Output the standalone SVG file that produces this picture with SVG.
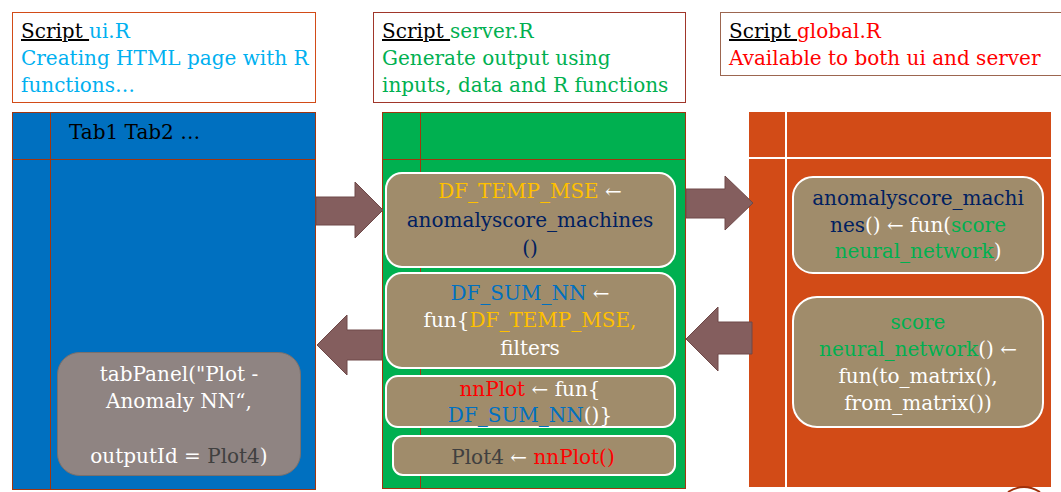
<svg xmlns="http://www.w3.org/2000/svg" width="1061" height="492" viewBox="0 0 1061 492">
<style>
text{font-family:"DejaVu Serif","Liberation Serif",serif;font-size:20px}
.c{text-anchor:middle}
.k{fill:#000}
.lb{fill:#00B0F0}
.gr{fill:#00B050}
.rd{fill:#FF0000}
.nv{fill:#002060}
.yl{fill:#FFC000}
.bl{fill:#0070C0}
.wh{fill:#FFFFFF}
.dg{fill:#404040}
.box{fill:#A08C6B;stroke:#FFFFFF;stroke-width:2}
.arr{fill:#845E5E;stroke:#6E4848;stroke-width:1}
</style>
<rect width="1061" height="492" fill="#FFFFFF"/>

<g id="header-ui">
<rect x="12.5" y="12.5" width="303" height="90" fill="#FFFFFF" stroke="#D24B17" stroke-width="1"/>
<text x="21" y="38"><tspan class="k" text-decoration="underline">Script </tspan><tspan class="lb">ui.R</tspan></text>
<text x="21" y="65" class="lb">Creating HTML page with R</text>
<text x="21" y="92" class="lb">functions…</text>
</g>

<g id="header-server">
<rect x="373.5" y="12.5" width="312" height="90" fill="#FFFFFF" stroke="#A0362A" stroke-width="1"/>
<text x="382" y="38"><tspan class="k" text-decoration="underline">Script </tspan><tspan class="gr">server.R</tspan></text>
<text x="382" y="65" class="gr">Generate output using</text>
<text x="382" y="92" class="gr">inputs, data and R functions</text>
</g>

<g id="header-global">
<rect x="720.5" y="12.5" width="345" height="63" fill="#FFFFFF" stroke="#9C6650" stroke-width="1"/>
<text x="729" y="38"><tspan class="k" text-decoration="underline">Script </tspan><tspan class="rd">global.R</tspan></text>
<text x="729" y="65" class="rd">Available to both ui and server</text>
</g>

<g id="panel-ui">
<rect x="12.5" y="112.5" width="303" height="377" fill="#0070C0" stroke="#A0360F" stroke-width="1"/>
<line x1="50.5" y1="112" x2="50.5" y2="490" stroke="#A0360F"/>
<line x1="12" y1="159.5" x2="316" y2="159.5" stroke="#A0360F"/>
<text x="69" y="139" class="k">Tab1 Tab2 …</text>
</g>

<g id="node-tabpanel">
<rect x="57.5" y="352.5" width="243" height="123" rx="22" fill="#8F8482" stroke="#7A706C" stroke-width="1"/>
<text x="179" y="381" class="c wh">tabPanel("Plot -</text>
<text x="179" y="408" class="c wh">Anomaly NN“,</text>
<text x="179" y="463" class="c"><tspan class="wh">outputId = </tspan><tspan class="dg">Plot4</tspan><tspan class="wh">)</tspan></text>
</g>

<g id="panel-server">
<rect x="382.5" y="112.5" width="303" height="376" fill="#00B050" stroke="#A0360F" stroke-width="1"/>
<line x1="420.5" y1="112" x2="420.5" y2="488" stroke="#A0360F"/>
<line x1="382" y1="159.5" x2="686" y2="159.5" stroke="#A0360F"/>
</g>

<g id="node-df-temp-mse">
<rect x="386" y="173" width="289" height="94" rx="16" class="box"/>
<text x="530" y="198" class="c"><tspan class="yl">DF_TEMP_MSE</tspan><tspan class="wh"> ←</tspan></text>
<text x="530" y="227" class="c nv">anomalyscore_machines</text>
<text x="530" y="255" class="c nv">()</text>
</g>

<g id="node-df-sum-nn">
<rect x="386" y="273" width="289" height="95" rx="16" class="box"/>
<text x="530" y="300" class="c"><tspan class="bl">DF_SUM_NN</tspan><tspan class="wh"> ←</tspan></text>
<text x="530" y="327" class="c"><tspan class="wh">fun{</tspan><tspan class="yl">DF_TEMP_MSE,</tspan></text>
<text x="530" y="355" class="c wh">filters</text>
</g>

<g id="node-nnplot">
<rect x="386" y="376" width="289" height="51" rx="12" class="box"/>
<text x="530" y="396" class="c"><tspan class="rd">nnPlot</tspan><tspan class="wh"> ← fun{</tspan></text>
<text x="530" y="422" class="c"><tspan class="bl">DF_SUM_NN</tspan><tspan class="wh">()}</tspan></text>
</g>

<g id="node-plot4">
<rect x="393" y="436" width="282" height="39" rx="10" class="box"/>
<text x="533" y="464" class="c"><tspan class="dg">Plot4</tspan><tspan class="wh"> ← </tspan><tspan class="rd">nnPlot()</tspan></text>
</g>

<g id="panel-global">
<rect x="749" y="112" width="302" height="375" fill="#D24B17"/>
<line x1="786" y1="112" x2="786" y2="487" stroke="#FFFFFF" stroke-width="2"/>
<line x1="749" y1="158" x2="1051" y2="158" stroke="#FFFFFF" stroke-width="2"/>
</g>

<g id="node-anomalyscore">
<rect x="793" y="177" width="250" height="96" rx="20" class="box"/>
<text x="918" y="205" class="c nv">anomalyscore_machi</text>
<text x="918" y="232" class="c"><tspan class="nv">nes</tspan><tspan class="wh">() ← fun(</tspan><tspan class="gr">score</tspan></text>
<text x="918" y="258" class="c"><tspan class="gr">neural_network</tspan><tspan class="wh">)</tspan></text>
</g>

<g id="node-score-nn">
<rect x="793" y="297" width="250" height="130" rx="24" class="box"/>
<text x="918" y="329" class="c gr">score</text>
<text x="918" y="356" class="c"><tspan class="gr">neural_network</tspan><tspan class="wh">() ←</tspan></text>
<text x="918" y="383" class="c wh">fun(to_matrix(),</text>
<text x="918" y="410" class="c wh">from_matrix())</text>
</g>

<g id="connectors">
<polygon class="arr" points="316,197 355,197 355,182 383,210 355,238 355,225 316,225"/>
<polygon class="arr" points="382,330 347,330 347,315 317,345 347,375 347,360 382,360"/>
<polygon class="arr" points="686,189 725,189 725,176 753,203 725,230 725,218 686,218"/>
<polygon class="arr" points="752,322 718,322 718,307 686,339 718,371 718,354 752,354"/>
</g>

<path d="M1008,492 Q1024,482 1040,492" fill="none" stroke="#A0300A" stroke-width="2"/>
</svg>
